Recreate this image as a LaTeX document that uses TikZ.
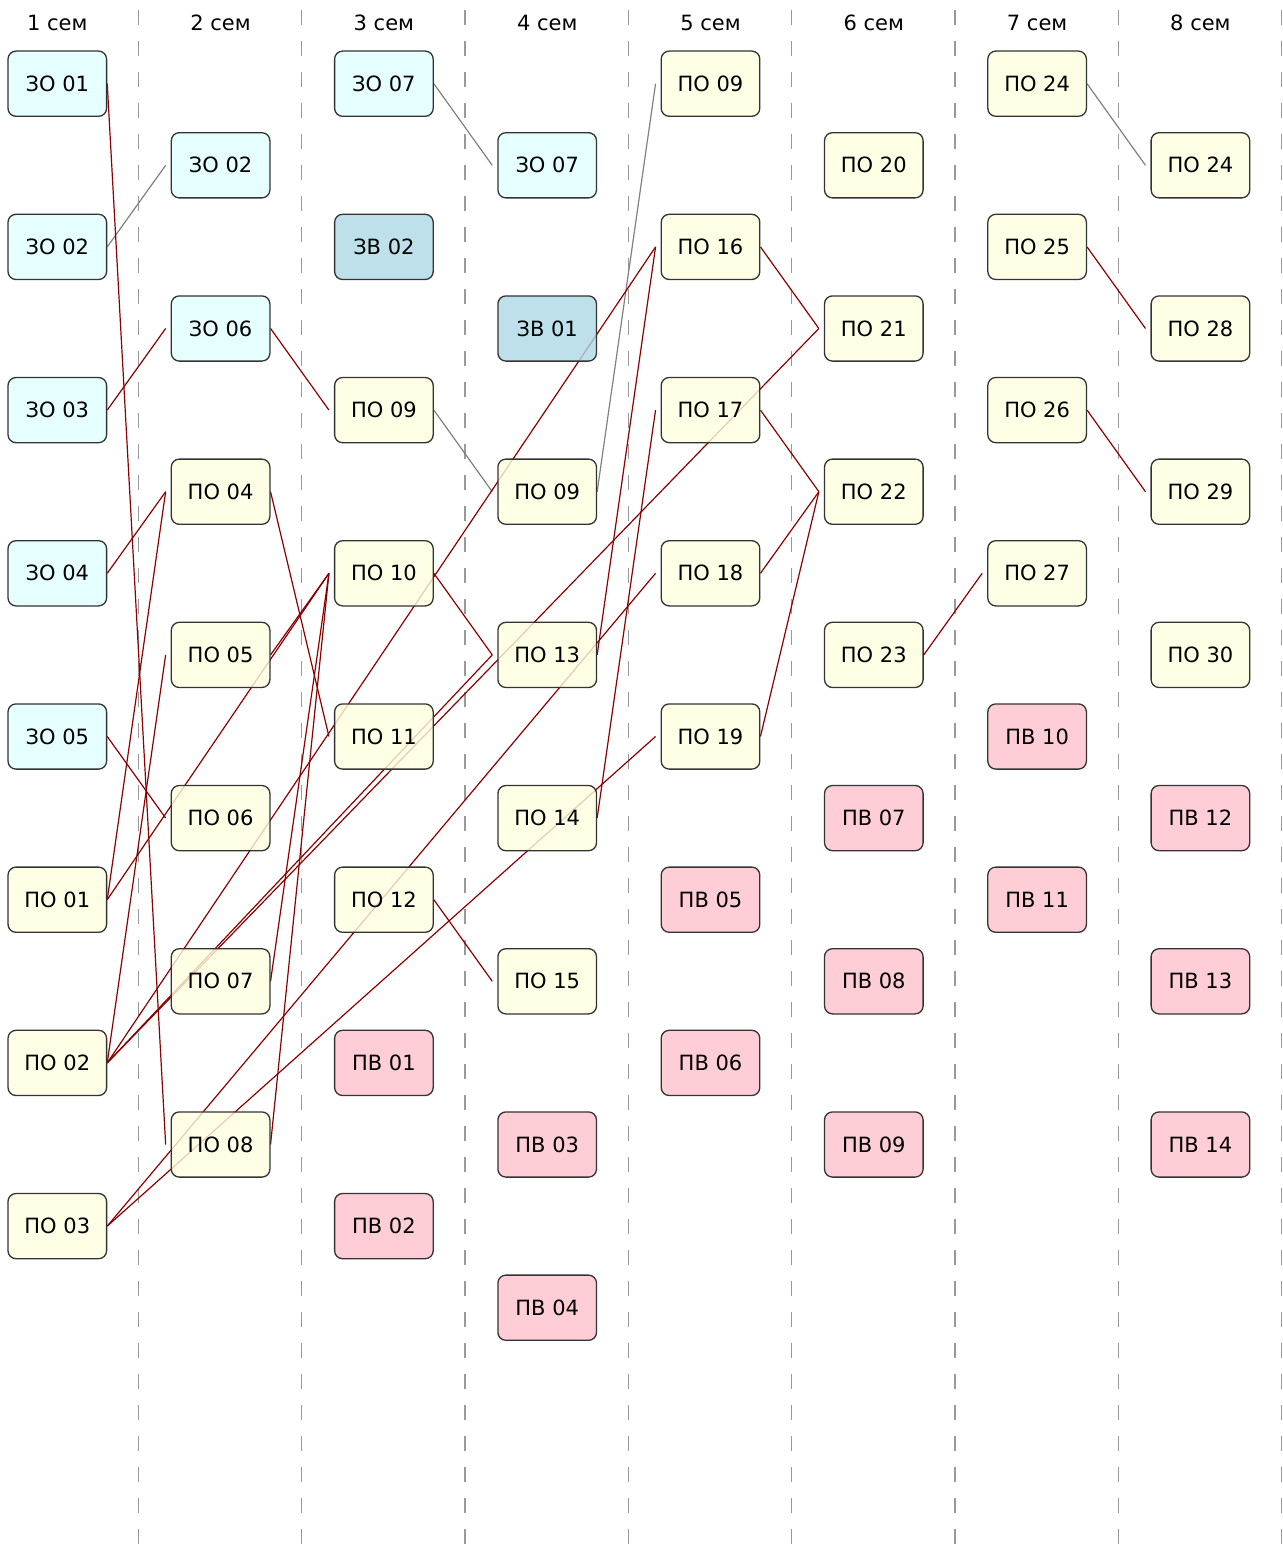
\documentclass[tikz,border=0pt]{standalone}
\usepackage{fontspec}
\setmainfont{DejaVu Sans}
\usetikzlibrary{backgrounds}
\definecolor{zocol}{HTML}{E0FFFF}
\definecolor{zvcol}{HTML}{ADD8E6}
\definecolor{pocol}{HTML}{FFFFE0}
\definecolor{pvcol}{HTML}{FFC0CB}
\definecolor{reqred}{HTML}{8B0000}
\newcommand{\kurs}[5]{%
  \node[#4] (#1) at ({57.3+163.3*(#2-1)},{83.7+81.6*#3}) {#5};}
\newcommand{\need}[2]{%
  \draw[reqline] (#1.east) -- ([xshift=-2.5pt]#2.west);}
\newcommand{\same}[2]{%
  \draw[sameline] (#1.east) -- ([xshift=-2.5pt]#2.west);}

\begin{document}
\begin{tikzpicture}[x=0.5pt, y=-0.5pt,
  every node/.style={font=\fontsize{10.5}{12}\selectfont},
  kursbox/.style={draw=black!80, line width=0.65pt, rounded corners=4pt,
    fill opacity=0.8, text opacity=1, inner sep=0pt,
    minimum width=49.3pt, minimum height=32.6pt},
  zo/.style={kursbox, fill=zocol},
  zv/.style={kursbox, fill=zvcol},
  po/.style={kursbox, fill=pocol},
  pv/.style={kursbox, fill=pvcol},
  semline/.style={black!40, line width=0.65pt, dash pattern=on 7.5pt off 8pt},
  reqline/.style={reqred, line width=0.6pt},
  sameline/.style={gray, line width=0.6pt}]

\useasboundingbox (0,0) rectangle (1282,1557);

% ---- semester heads ----
\node (sem1) at (57.3,22.5) {1 сем};
\node (sem2) at (220.6,22.5) {2 сем};
\node (sem3) at (383.9,22.5) {3 сем};
\node (sem4) at (547.2,22.5) {4 сем};
\node (sem5) at (710.5,22.5) {5 сем};
\node (sem6) at (873.8,22.5) {6 сем};
\node (sem7) at (1037.1,22.5) {7 сем};
\node (sem8) at (1200.4,22.5) {8 сем};

% ---- 1 сем ----
\kurs{s1zo01}{1}{0}{zo}{ЗО 01}
\kurs{s1zo02}{1}{2}{zo}{ЗО 02}
\kurs{s1zo03}{1}{4}{zo}{ЗО 03}
\kurs{s1zo04}{1}{6}{zo}{ЗО 04}
\kurs{s1zo05}{1}{8}{zo}{ЗО 05}
\kurs{s1po01}{1}{10}{po}{ПО 01}
\kurs{s1po02}{1}{12}{po}{ПО 02}
\kurs{s1po03}{1}{14}{po}{ПО 03}

% ---- 2 сем ----
\kurs{s2zo02}{2}{1}{zo}{ЗО 02}
\kurs{s2zo06}{2}{3}{zo}{ЗО 06}
\kurs{s2po04}{2}{5}{po}{ПО 04}
\kurs{s2po05}{2}{7}{po}{ПО 05}
\kurs{s2po06}{2}{9}{po}{ПО 06}
\kurs{s2po07}{2}{11}{po}{ПО 07}
\kurs{s2po08}{2}{13}{po}{ПО 08}

% ---- 3 сем ----
\kurs{s3zo07}{3}{0}{zo}{ЗО 07}
\kurs{s3zv02}{3}{2}{zv}{ЗВ 02}
\kurs{s3po09}{3}{4}{po}{ПО 09}
\kurs{s3po10}{3}{6}{po}{ПО 10}
\kurs{s3po11}{3}{8}{po}{ПО 11}
\kurs{s3po12}{3}{10}{po}{ПО 12}
\kurs{s3pv01}{3}{12}{pv}{ПВ 01}
\kurs{s3pv02}{3}{14}{pv}{ПВ 02}

% ---- 4 сем ----
\kurs{s4zo07}{4}{1}{zo}{ЗО 07}
\kurs{s4zv01}{4}{3}{zv}{ЗВ 01}
\kurs{s4po09}{4}{5}{po}{ПО 09}
\kurs{s4po13}{4}{7}{po}{ПО 13}
\kurs{s4po14}{4}{9}{po}{ПО 14}
\kurs{s4po15}{4}{11}{po}{ПО 15}
\kurs{s4pv03}{4}{13}{pv}{ПВ 03}
\kurs{s4pv04}{4}{15}{pv}{ПВ 04}

% ---- 5 сем ----
\kurs{s5po09}{5}{0}{po}{ПО 09}
\kurs{s5po16}{5}{2}{po}{ПО 16}
\kurs{s5po17}{5}{4}{po}{ПО 17}
\kurs{s5po18}{5}{6}{po}{ПО 18}
\kurs{s5po19}{5}{8}{po}{ПО 19}
\kurs{s5pv05}{5}{10}{pv}{ПВ 05}
\kurs{s5pv06}{5}{12}{pv}{ПВ 06}

% ---- 6 сем ----
\kurs{s6po20}{6}{1}{po}{ПО 20}
\kurs{s6po21}{6}{3}{po}{ПО 21}
\kurs{s6po22}{6}{5}{po}{ПО 22}
\kurs{s6po23}{6}{7}{po}{ПО 23}
\kurs{s6pv07}{6}{9}{pv}{ПВ 07}
\kurs{s6pv08}{6}{11}{pv}{ПВ 08}
\kurs{s6pv09}{6}{13}{pv}{ПВ 09}

% ---- 7 сем ----
\kurs{s7po24}{7}{0}{po}{ПО 24}
\kurs{s7po25}{7}{2}{po}{ПО 25}
\kurs{s7po26}{7}{4}{po}{ПО 26}
\kurs{s7po27}{7}{6}{po}{ПО 27}
\kurs{s7pv10}{7}{8}{pv}{ПВ 10}
\kurs{s7pv11}{7}{10}{pv}{ПВ 11}

% ---- 8 сем ----
\kurs{s8po24}{8}{1}{po}{ПО 24}
\kurs{s8po28}{8}{3}{po}{ПО 28}
\kurs{s8po29}{8}{5}{po}{ПО 29}
\kurs{s8po30}{8}{7}{po}{ПО 30}
\kurs{s8pv12}{8}{9}{pv}{ПВ 12}
\kurs{s8pv13}{8}{11}{pv}{ПВ 13}
\kurs{s8pv14}{8}{13}{pv}{ПВ 14}

\begin{pgfonlayer}{background}
% ---- column borders ----
\draw[semline] (138.5,10) -- (138.5,1557);
\draw[semline] (301.8,10) -- (301.8,1557);
\draw[semline] (465.1,10) -- (465.1,1557);
\draw[semline] (628.4,10) -- (628.4,1557);
\draw[semline] (791.7,10) -- (791.7,1557);
\draw[semline] (955.0,10) -- (955.0,1557);
\draw[semline] (1118.3,10) -- (1118.3,1557);
\draw[semline] (1281.6,10) -- (1281.6,1557);

% ---- same course in the next term ----
\same{s1zo02}{s2zo02}
\same{s3zo07}{s4zo07}
\same{s3po09}{s4po09}
\same{s4po09}{s5po09}
\same{s7po24}{s8po24}

% ---- prerequisites ----
\need{s1zo01}{s2po08}
\need{s1zo03}{s2zo06}
\need{s1zo04}{s2po04}
\need{s1zo05}{s2po06}
\need{s1po01}{s2po04}
\need{s1po01}{s3po10}
\need{s1po02}{s2po05}
\need{s1po02}{s4po13}
\need{s1po02}{s5po16}
\need{s1po02}{s6po21}
\need{s1po03}{s5po18}
\need{s1po03}{s5po19}
\need{s2zo06}{s3po09}
\need{s2po04}{s3po11}
\need{s2po05}{s3po10}
\need{s2po07}{s3po10}
\need{s2po08}{s3po10}
\need{s3po10}{s4po13}
\need{s3po12}{s4po15}
\need{s4po13}{s5po16}
\need{s4po14}{s5po17}
\need{s5po16}{s6po21}
\need{s5po17}{s6po22}
\need{s5po18}{s6po22}
\need{s5po19}{s6po22}
\need{s6po23}{s7po27}
\need{s7po25}{s8po28}
\need{s7po26}{s8po29}
\end{pgfonlayer}

\end{tikzpicture}
\end{document}
